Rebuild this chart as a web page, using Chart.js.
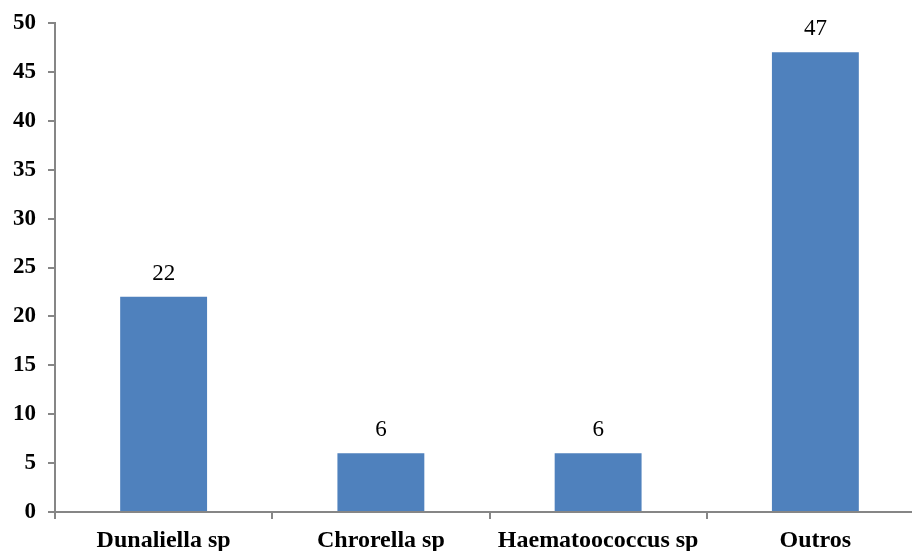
<!DOCTYPE html>
<html>
<head>
<meta charset="utf-8">
<script src="https://cdn.jsdelivr.net/npm/chart.js@4/dist/chart.umd.min.js"></script>
<style>
  html, body { margin: 0; padding: 0; background: #fff; overflow: hidden; }
  #wrap { position: relative; width: 924px; height: 551px; }
</style>
</head>
<body>
<div id="wrap"><canvas id="chart"></canvas></div>
<script>
const categories = ["Dunaliella sp", "Chrorella sp", "Haematoococcus sp", "Outros"];
const counts = [22, 6, 6, 47];
const yTicks = [0, 5, 10, 15, 20, 25, 30, 35, 40, 45, 50];

const SERIF = "'Liberation Serif', 'Times New Roman', serif";
const AXIS = "#868686";

// Writes each bar's value above it
const valueLabels = {
  id: "valueLabels",
  afterDatasetsDraw(chart) {
    const ctx = chart.ctx;
    const meta = chart.getDatasetMeta(0);
    ctx.save();
    ctx.font = "23px " + SERIF;
    ctx.fillStyle = "#000";
    ctx.textAlign = "center";
    ctx.textBaseline = "alphabetic";
    meta.data.forEach((bar, i) => {
      ctx.fillText(String(counts[i]), bar.x, bar.y - 17);
    });
    ctx.restore();
  }
};

new Chart(document.getElementById("chart"), {
  type: "bar",
  data: {
    labels: categories,
    datasets: [{
      data: counts,
      backgroundColor: "#4F81BD",
      borderColor: "#4F81BD",
      borderWidth: 0,
      categoryPercentage: 0.4,
      barPercentage: 1.0
    }]
  },
  options: {
    responsive: true,
    maintainAspectRatio: false,
    animation: false,
    layout: { padding: { top: 23, right: 0, left: 0, bottom: 0 } },
    plugins: { legend: { display: false }, tooltip: { enabled: false } },
    scales: {
      x: {
        offset: true,
        grid: { offset: true, drawOnChartArea: false, drawTicks: true, tickLength: 7, color: AXIS, lineWidth: 2 },
        border: { display: true, color: AXIS, width: 2 },
        ticks: { color: "#000", font: { family: SERIF, size: 24, weight: "bold" }, padding: 7, maxRotation: 0 },
        afterFit(scale) { scale.height = 39; }
      },
      y: {
        min: 0, max: 50,
        afterBuildTicks(scale) { scale.ticks = yTicks.map(v => ({ value: v })); },
        grid: { drawOnChartArea: false, drawTicks: true, tickLength: 7, color: AXIS, lineWidth: 2 },
        border: { display: true, color: AXIS, width: 2 },
        ticks: { color: "#000", font: { family: SERIF, size: 23, weight: "bold", lineHeight: 1.0 }, padding: 12 },
        afterFit(scale) { scale.width = 55; scale.paddingTop = 0; scale.paddingBottom = 0; }
      }
    }
  },
  plugins: [valueLabels]
});
</script>
</body>
</html>
